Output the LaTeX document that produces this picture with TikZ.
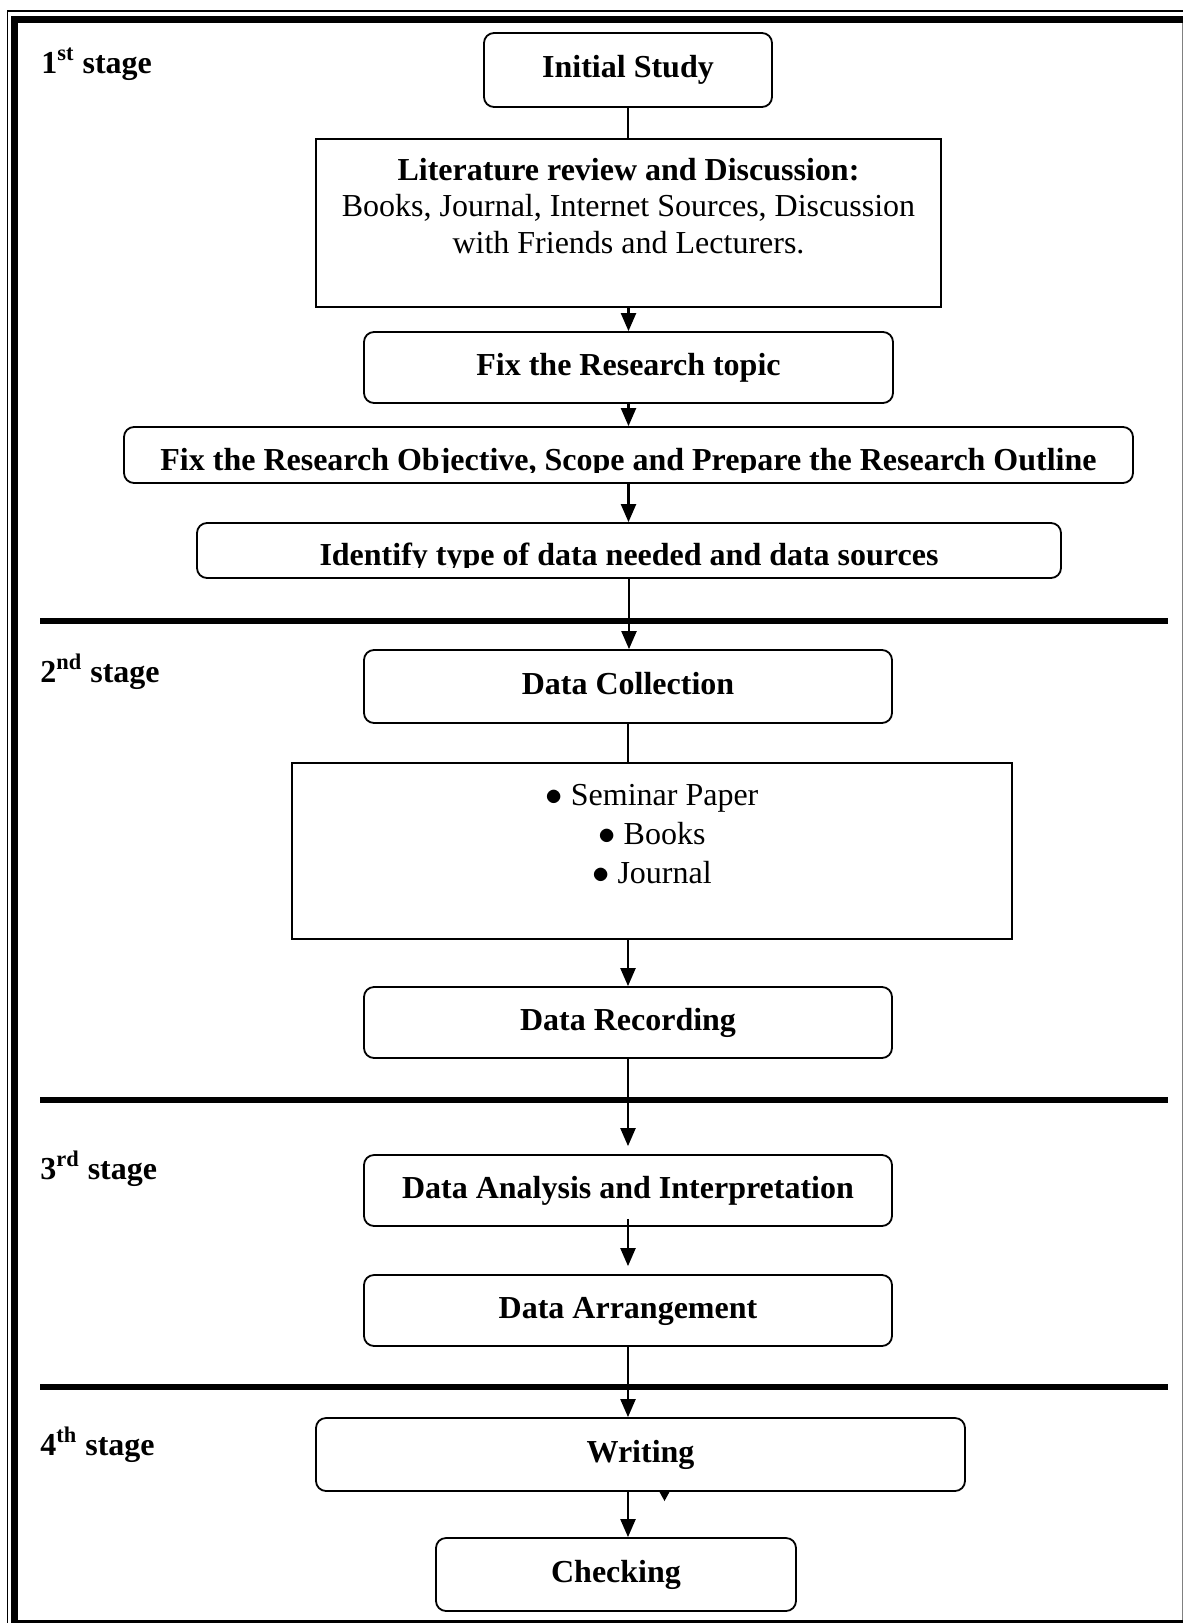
\documentclass[tikz,border=0pt]{standalone}
\usepackage{fontspec}
\setmainfont{Liberation Serif}
\usetikzlibrary{arrows.meta}
\begin{document}
\begin{tikzpicture}[x=0.5pt,y=-0.5pt,
  font=\fontsize{16}{19}\selectfont,
  rbox/.style={draw, line width=0.9pt, rounded corners=5pt, inner sep=0pt,
    text height=11pt, text depth=3.5pt, font=\fontsize{16}{19}\selectfont\bfseries},
  sbox/.style={draw, line width=0.9pt, inner sep=0pt},
  conn/.style={line width=1.1pt},
  arr/.style={conn, -{Triangle[length=9pt,width=7.5pt]}},
  sepline/.style={line width=3.3pt},
  stagelab/.style={anchor=base west, inner sep=0pt, font=\fontsize{16}{19}\selectfont\bfseries},
  cliptext/.style={anchor=base, inner sep=0pt, font=\fontsize{16}{19}\selectfont\bfseries}]
\useasboundingbox (0,0) rectangle (1183,1623);
% frame
\draw[line width=0.75pt] (7.5,1623) -- (7.5,11) -- (1183,11);
\draw[line width=3.5pt] (14.5,1623) -- (14.5,19) -- (1183,19);
\draw[line width=3.5pt] (11,1623) -- (1183,1623);
\draw[gray, line width=0.5pt] (1182.5,23) -- (1182.5,1620);
% separators
\draw[sepline] (40,621) -- (1168,621);
\draw[sepline] (40,1100) -- (1168,1100);
\draw[sepline] (40,1387) -- (1168,1387);
% stage labels
\node[stagelab] (s1) at (41,73) {1\textsuperscript{st} stage};
\node[stagelab] (s2) at (40,682) {2\textsuperscript{nd} stage};
\node[stagelab] (s3) at (40,1179) {3\textsuperscript{rd} stage};
\node[stagelab] (s4) at (40,1455) {4\textsuperscript{th} stage};
% boxes
\node[rbox, minimum width=144pt, minimum height=37pt] (init) at (628,70) {Initial Study};
\node[sbox, minimum width=312.5pt, minimum height=84pt] (lit) at (628.5,223) {};
\node[anchor=base, inner sep=0pt, font=\fontsize{16}{18.3}\selectfont] (littext) at (628.5,180)
  {\begin{tabular}[t]{@{}c@{}}\textbf{Literature review and Discussion:}\\ Books, Journal, Internet Sources, Discussion\\ with Friends and Lecturers.\end{tabular}};
\node[rbox, minimum width=264.5pt, minimum height=35.5pt] (topic) at (628.5,367.5) {Fix the Research topic};
\node[rbox, minimum width=504.5pt, minimum height=28pt] (obj) at (628.5,455) {};
\begin{scope}
  \clip (126,429) rectangle (1131,472);
  \node[cliptext] (objtext) at (628.5,470) {Fix the Research Objective, Scope and Prepare the Research Outline};
\end{scope}
\node[rbox, minimum width=432pt, minimum height=27.5pt] (ident) at (629,550.5) {};
\begin{scope}
  \clip (199,525) rectangle (1059,567);
  \node[cliptext] (identtext) at (629,565) {Identify type of data needed and data sources};
\end{scope}
\node[rbox, minimum width=264pt, minimum height=36.5pt] (coll) at (628,686.5) {Data Collection};
\node[sbox, minimum width=360pt, minimum height=88pt] (bul) at (652,851) {};
\node[anchor=base, inner sep=0pt, font=\fontsize{16}{19.5}\selectfont] (bultext) at (652,805)
  {\begin{tabular}[t]{@{}c@{}}$\bullet$ Seminar Paper\\ $\bullet$ Books\\ $\bullet$ Journal\end{tabular}};
\node[rbox, minimum width=264pt, minimum height=35.5pt] (rec) at (628,1022.5) {Data Recording};
\node[rbox, minimum width=264pt, minimum height=35.5pt] (ana) at (628,1190.5) {Data Analysis and Interpretation};
\node[rbox, minimum width=264pt, minimum height=35.5pt] (arrg) at (628,1310.5) {Data Arrangement};
\node[rbox, minimum width=324.5pt, minimum height=36.5pt] (wri) at (640.5,1454.5) {Writing};
\node[rbox, minimum width=180pt, minimum height=36.5pt] (chk) at (616,1574.5) {Checking};
% connectors
\draw[conn] (init.south) -- (init.south |- lit.north);
\draw[arr] (lit.south) -- (lit.south |- topic.north);
\draw[arr] (topic.south) -- (topic.south |- obj.north);
\draw[arr] (obj.south) -- (obj.south |- ident.north);
\draw[arr] (ident.south) -- (ident.south |- coll.north);
\draw[conn] (coll.south) -- (coll.south |- bul.north);
\draw[arr] (coll.south |- bul.south) -- (rec.north);
\draw[arr, shorten >=4pt] (rec.south) -- (ana.north);
\draw[arr, shorten <=-4pt, shorten >=4pt] (ana.south) -- (arrg.north);
\draw[arr] (arrg.south) -- (arrg.south |- wri.north);
\draw[arr] (arrg.south |- wri.south) -- (arrg.south |- chk.north);
% stray arrowhead under Writing
\fill (659,1491) -- (670,1491) -- (664.5,1501) -- cycle;
\end{tikzpicture}
\end{document}
